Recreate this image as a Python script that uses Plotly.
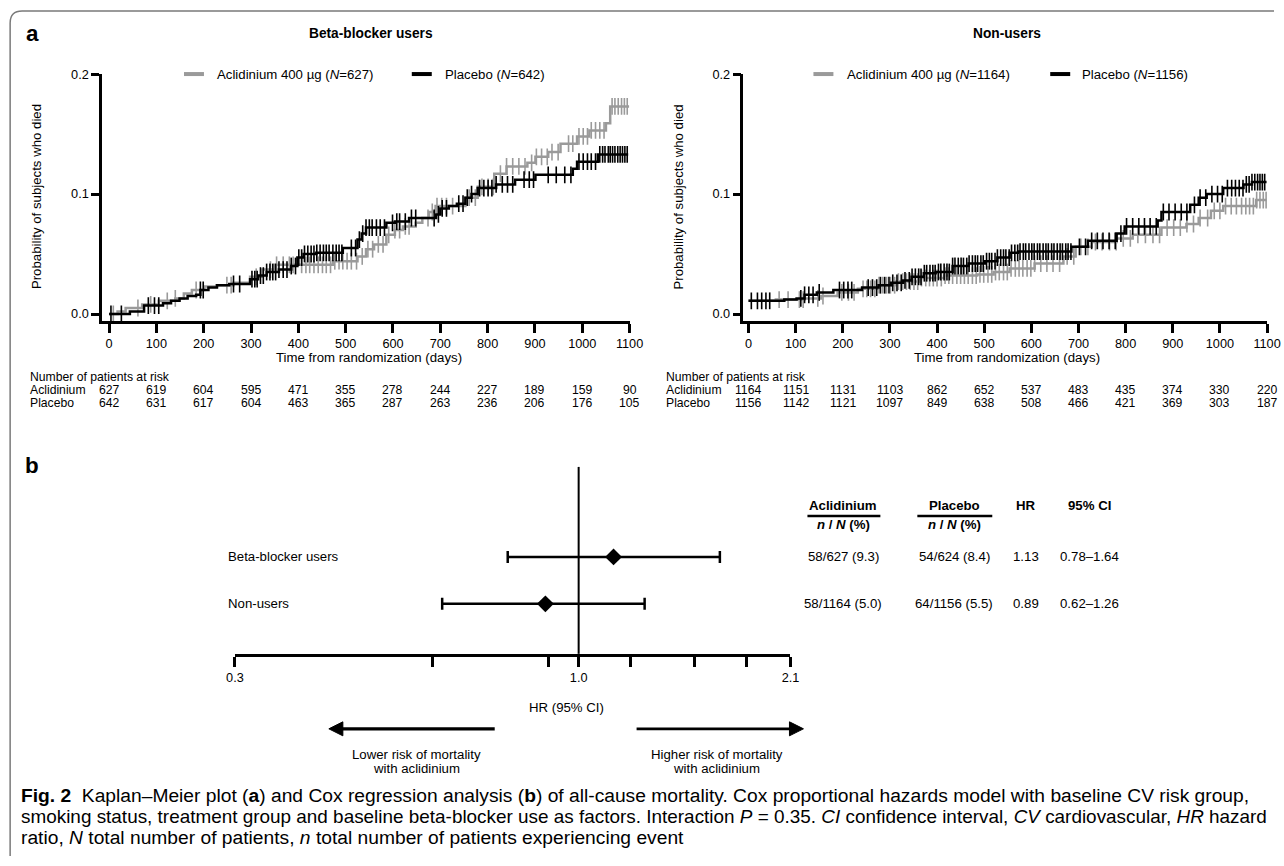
import numpy as np
import plotly.graph_objects as go

# The photographed page is shrunk (~0.983 horizontally, ~0.991 vertically) and the body keeps
# an 8px margin: target pixel T -> page pixel T*K -> figure pixel T*K - 8.
KX = 1 / 0.983
KY = 1 / 0.991
OFF = 8
FW, FH = 1288, 856
FONT = "Liberation Sans, Arial, Helvetica, sans-serif"
GRAY = "#9a9a9a"


def fs(v):
    return v * KX


def px(x):
    return (x * KX - OFF) / FW


def py(y):
    return 1 - (y * KY - OFF) / FH


# ---------------- Kaplan-Meier data ----------------
# Beta-blocker users
bb_acl_t = [0, 18, 35, 70, 105, 140, 158, 175, 201, 228, 263, 298, 324, 350, 473, 525, 543, 560, 586,
            604, 621, 648, 662, 676, 690, 753, 779, 814, 840, 884, 901, 928, 954, 989, 1015, 1050, 1059, 1099]
bb_acl_p = [0, 0.002, 0.005, 0.008, 0.011, 0.013, 0.017, 0.020, 0.023, 0.024, 0.026, 0.031, 0.037, 0.041,
            0.044, 0.048, 0.054, 0.058, 0.066, 0.070, 0.073, 0.076, 0.080, 0.085, 0.090, 0.097, 0.106, 0.117,
            0.123, 0.126, 0.131, 0.135, 0.142, 0.148, 0.153, 0.159, 0.173, 0.173]
bb_acl_cens = [9, 61, 88, 123, 140, 184, 249, 258, 311, 341, 354, 368, 381, 389, 407, 416, 424, 433, 442,
               451, 459, 468, 477, 486, 494, 503, 512, 523, 535, 547, 557, 569, 579, 591, 604, 614, 626, 634,
               674, 683, 693, 703, 713, 726, 761, 774, 788, 801, 812, 827, 840, 853, 866, 879, 893, 903, 914,
               926, 936, 949, 971, 980, 993, 1002, 1011, 1019, 1028, 1037, 1046, 1063, 1069, 1076, 1083,
               1089, 1095]

bb_pla_t = [0, 44, 74, 114, 131, 149, 166, 184, 193, 210, 228, 254, 298, 315, 333, 359, 385, 398, 411,
            438, 494, 525, 534, 543, 586, 604, 634, 691, 700, 718, 735, 753, 766, 779, 818, 858, 901, 980,
            989, 1033, 1097]
bb_pla_p = [0, 0.002, 0.007, 0.009, 0.011, 0.013, 0.015, 0.016, 0.020, 0.022, 0.024, 0.025, 0.029, 0.032,
            0.035, 0.037, 0.040, 0.047, 0.050, 0.051, 0.055, 0.062, 0.067, 0.072, 0.076, 0.077, 0.080, 0.083,
            0.088, 0.090, 0.092, 0.097, 0.100, 0.105, 0.108, 0.112, 0.116, 0.121, 0.127, 0.133, 0.133]
bb_pla_cens = [4, 26, 83, 96, 105, 193, 199, 263, 276, 302, 308, 313, 320, 326, 333, 340, 346, 352, 359,
               368, 376, 385, 394, 401, 407, 413, 420, 427, 433, 439, 446, 453, 459, 465, 473, 480, 486, 492,
               512, 521, 529, 536, 543, 550, 556, 565, 573, 582, 599, 608, 614, 626, 639, 648, 687, 696, 704,
               713, 739, 748, 757, 766, 783, 792, 801, 809, 818, 831, 842, 853, 877, 888, 897, 928, 945, 963,
               976, 993, 1002, 1011, 1019, 1028, 1037, 1043, 1048, 1055, 1059, 1064, 1069, 1075, 1080, 1085,
               1090, 1095]

# Non-users
nu_acl_t = [0, 58, 119, 154, 189, 232, 276, 311, 363, 415, 485, 520, 554, 607, 668, 694, 728, 781, 815,
            876, 929, 955, 981, 1007, 1077, 1099]
nu_acl_p = [0.011, 0.012, 0.013, 0.015, 0.018, 0.021, 0.024, 0.027, 0.030, 0.032, 0.033, 0.035, 0.038,
            0.042, 0.048, 0.056, 0.060, 0.063, 0.066, 0.072, 0.075, 0.080, 0.086, 0.090, 0.095, 0.095]
nu_acl_cens = [65, 84, 108, 116, 147, 158, 198, 212, 224, 243, 251, 259, 268, 277, 285, 293, 301, 310, 318,
               327, 335, 343, 351, 359, 367, 376, 384, 392, 400, 409, 417, 425, 433, 442, 450, 458, 466, 475,
               483, 491, 499, 508, 516, 524, 532, 541, 549, 557, 566, 574, 582, 591, 599, 607, 620, 633, 646,
               660, 676, 690, 705, 720, 736, 750, 766, 780, 795, 810, 826, 842, 858, 872, 888, 902, 916, 930,
               944, 958, 974, 988, 1000, 1012, 1024, 1035, 1046, 1055, 1063, 1071, 1078, 1085, 1092, 1098]

nu_pla_t = [0, 76, 102, 119, 145, 180, 241, 276, 302, 328, 346, 372, 397, 433, 467, 502, 528, 554, 572,
            685, 720, 781, 798, 868, 876, 937, 955, 972, 1007, 1050, 1068, 1099]
nu_pla_p = [0.011, 0.012, 0.013, 0.016, 0.018, 0.020, 0.022, 0.024, 0.026, 0.028, 0.031, 0.034, 0.035,
            0.040, 0.042, 0.044, 0.047, 0.051, 0.052, 0.056, 0.061, 0.067, 0.073, 0.078, 0.085, 0.091,
            0.097, 0.100, 0.105, 0.108, 0.110, 0.110]
nu_pla_cens = [6, 19, 28, 37, 45, 111, 119, 128, 137, 150, 193, 202, 211, 219, 254, 263, 272, 280, 289,
               298, 306, 315, 324, 332, 341, 347, 354, 361, 366, 373, 378, 385, 391, 396, 403, 408, 415, 421,
               426, 433, 438, 445, 451, 456, 463, 468, 475, 481, 486, 493, 498, 505, 511, 516, 523, 528, 535,
               541, 546, 553, 558, 565, 571, 576, 583, 588, 595, 601, 606, 613, 618, 625, 631, 636, 643, 648,
               655, 661, 666, 673, 678, 684, 702, 715, 728, 740, 752, 765, 778, 790, 802, 815, 828, 840, 852,
               865, 880, 892, 905, 918, 930, 946, 958, 970, 983, 995, 1005, 1016, 1025, 1033, 1041, 1049,
               1056, 1062, 1068, 1074, 1080, 1085, 1090, 1095]

# Numbers at risk
risk_days = [0, 100, 200, 300, 400, 500, 600, 700, 800, 900, 1000, 1100]
bb_risk_acl = [627, 619, 604, 595, 471, 355, 278, 244, 227, 189, 159, 90]
bb_risk_pla = [642, 631, 617, 604, 463, 365, 287, 263, 236, 206, 176, 105]
nu_risk_acl = [1164, 1151, 1131, 1103, 862, 652, 537, 483, 435, 374, 330, 220]
nu_risk_pla = [1156, 1142, 1121, 1097, 849, 638, 508, 466, 421, 369, 303, 187]

# ---------------- Forest plot data ----------------
forest_groups = ["Beta-blocker users", "Non-users"]
forest_hr = [1.13, 0.89]
forest_lo = [0.78, 0.62]
forest_hi = [1.64, 1.26]
acl_n = [58, 58]
acl_N = [627, 1164]
acl_pct = [9.3, 5.0]
pla_n = [54, 64]
pla_N = [624, 1156]
pla_pct = [8.4, 5.5]
forest_ticks = [0.3, 0.6, 0.9, 1.0, 1.2, 1.5, 1.8, 2.1]
forest_ticklabels = ["0.3", "", "", "1.0", "", "", "", "2.1"]


def step_at(t, p, tc):
    t = np.asarray(t)
    p = np.asarray(p)
    idx = np.searchsorted(t, np.asarray(tc), side="right") - 1
    return p[np.clip(idx, 0, len(p) - 1)]


fig = go.Figure()

curves = [
    ("x", "y", bb_acl_t, bb_acl_p, bb_acl_cens, GRAY),
    ("x", "y", bb_pla_t, bb_pla_p, bb_pla_cens, "black"),
    ("x2", "y2", nu_acl_t, nu_acl_p, nu_acl_cens, GRAY),
    ("x2", "y2", nu_pla_t, nu_pla_p, nu_pla_cens, "black"),
]
for xa, ya, t, p, cens, col in curves:
    fig.add_trace(go.Scatter(x=t, y=p, mode="lines", line=dict(color=col, width=2.5, shape="hv"),
                             xaxis=xa, yaxis=ya, showlegend=False, hoverinfo="skip"))
    fig.add_trace(go.Scatter(x=cens, y=step_at(t, p, cens), mode="markers",
                             marker=dict(symbol="line-ns", size=12, line=dict(color=col, width=1.6)),
                             xaxis=xa, yaxis=ya, showlegend=False, hoverinfo="skip"))

# forest plot
n_rows = len(forest_groups)
row_y = [n_rows - i for i in range(n_rows)]
fig.add_trace(go.Scatter(
    x=forest_hr, y=row_y, mode="markers",
    marker=dict(symbol="diamond", size=13, color="black"),
    error_x=dict(type="data", symmetric=False,
                 array=[h - m for h, m in zip(forest_hi, forest_hr)],
                 arrayminus=[m - l for m, l in zip(forest_hr, forest_lo)],
                 color="black", thickness=2.5, width=6),
    xaxis="x3", yaxis="y3", showlegend=False, hoverinfo="skip"))

ax_common = dict(showline=True, linecolor="black", ticks="outside", tickcolor="black",
                 showgrid=False, zeroline=False, fixedrange=True,
                 tickfont=dict(family=FONT, size=fs(12.5), color="black"))

fig.update_layout(
    width=FW, height=FH, margin=dict(l=0, r=0, t=0, b=0),
    paper_bgcolor="white", plot_bgcolor="rgba(0,0,0,0)",
    font=dict(family=FONT, color="black", size=fs(13)),
    xaxis=dict(domain=[px(101), px(629)], range=[-14.8, 1100], tickvals=risk_days, ticklen=9,
               tickwidth=2.5, linewidth=2.5, anchor="y", **ax_common),
    yaxis=dict(domain=[py(321), py(74)], range=[-0.0058, 0.2], tickvals=[0, 0.1, 0.2],
               ticktext=["0.0", "0.1", "0.2"], ticklen=8, tickwidth=2.5, linewidth=2.5, anchor="x",
               **ax_common),
    xaxis2=dict(domain=[px(743), px(1267)], range=[-10.6, 1100], tickvals=risk_days, ticklen=9,
                tickwidth=2.5, linewidth=2.5, anchor="y2", **ax_common),
    yaxis2=dict(domain=[py(321), py(74)], range=[-0.0058, 0.2], tickvals=[0, 0.1, 0.2],
                ticktext=["0.0", "0.1", "0.2"], ticklen=8, tickwidth=2.5, linewidth=2.5, anchor="x2",
                **ax_common),
    xaxis3=dict(type="log", domain=[px(234), px(790)], range=[np.log10(0.3), np.log10(2.1)],
                tickvals=forest_ticks, ticktext=forest_ticklabels, ticklen=10, tickwidth=2.5,
                linewidth=3, anchor="y3", **ax_common),
    yaxis3=dict(domain=[py(654), py(467)], range=[-0.064, 3.915], visible=False, anchor="x3",
                fixedrange=True),
)

shapes = []
annotations = []


def ann(text, x, y, size=13, xanchor="center", yanchor="middle", xref="paper", yref="paper",
        textangle=0, color="black"):
    annotations.append(dict(text=text, x=x, y=y, xref=xref, yref=yref, showarrow=False,
                            xanchor=xanchor, yanchor=yanchor, textangle=textangle,
                            font=dict(family=FONT, size=fs(size), color=color)))


# frame with rounded top-left corner (kept inside the figure so the page does not overflow)
r = 12
fx0, fy0 = 9, 11
path = (f"M {px(fx0)},0 L {px(fx0)},{py(fy0 + r)} "
        f"Q {px(fx0)},{py(fy0)} {px(fx0 + r)},{py(fy0)} L 1,{py(fy0)}")
shapes.append(dict(type="path", path=path, xref="paper", yref="paper",
                   line=dict(color="#7a7a7a", width=1.5)))

# panel labels and titles
ann("<b>a</b>", px(31), py(33), size=22)
ann("<b>b</b>", px(31), py(466), size=22)
ann("<b>Beta-blocker users</b>", px(370), py(33), size=13.5)
ann("<b>Non-users</b>", px(1007), py(33), size=13.5)

# legends
legends = [
    (183, 214, f"Aclidinium 400 µg (<i>N</i>={bb_risk_acl[0]})", GRAY),
    (411, 442, f"Placebo (<i>N</i>={bb_risk_pla[0]})", "black"),
    (813, 845, f"Aclidinium 400 µg (<i>N</i>={nu_risk_acl[0]})", GRAY),
    (1050, 1080, f"Placebo (<i>N</i>={nu_risk_pla[0]})", "black"),
]
for x0, xt, txt, col in legends:
    shapes.append(dict(type="line", xref="paper", yref="paper", x0=px(x0), x1=px(x0 + 20),
                       y0=py(74), y1=py(74), line=dict(color=col, width=4)))
    ann(txt, px(xt), py(74), xanchor="left")

# axis titles
for xc in (35, 677):
    ann("Probability of subjects who died", px(xc), py(197), textangle=-90)
ann("Time from randomization (days)", px(368), py(358))
ann("Time from randomization (days)", px(1007), py(358))

# risk tables
RS = 12
for xa, x_lab, racl, rpla in (("x", 27, bb_risk_acl, bb_risk_pla), ("x2", 663, nu_risk_acl, nu_risk_pla)):
    ann("Number of patients at risk", px(x_lab), py(377), size=RS, xanchor="left")
    ann("Aclidinium", px(x_lab), py(390), size=RS, xanchor="left")
    ann("Placebo", px(x_lab), py(403), size=RS, xanchor="left")
    for d, a, p in zip(risk_days, racl, rpla):
        ann(str(a), d, py(390), size=RS, xref=xa)
        ann(str(p), d, py(403), size=RS, xref=xa)

# forest: reference line
shapes.append(dict(type="line", xref="x3", yref="y3 domain", x0=1, x1=1, y0=0, y1=1,
                   line=dict(color="black", width=2)))

# forest: row labels and table
for i, g in enumerate(forest_groups):
    yv = row_y[i]
    ann(g, px(225), yv, xanchor="left", yref="y3")
    ann(f"{acl_n[i]}/{acl_N[i]} ({acl_pct[i]:.1f})", px(843), yv, yref="y3")
    ann(f"{pla_n[i]}/{pla_N[i]} ({pla_pct[i]:.1f})", px(954), yv, yref="y3")
    ann(f"{forest_hr[i]:.2f}", px(1026), yv, yref="y3")
    ann(f"{forest_lo[i]:.2f}–{forest_hi[i]:.2f}", px(1089), yv, yref="y3")

ann("<b>Aclidinium</b>", px(843), py(506))
ann("<b>Placebo</b>", px(954), py(506))
ann("<b>HR</b>", px(1026), py(506))
ann("<b>95% CI</b>", px(1089), py(506))
ann("<b><i>n</i> / <i>N</i> (%)</b>", px(843), py(525))
ann("<b><i>n</i> / <i>N</i> (%)</b>", px(954), py(525))
for x0, x1 in ((807, 880), (917, 992)):
    shapes.append(dict(type="line", xref="paper", yref="paper", x0=px(x0), x1=px(x1),
                       y0=py(516), y1=py(516), line=dict(color="black", width=2.5)))

ann("HR (95% CI)", px(566), py(708))

# arrows
ay = 729
shapes.append(dict(type="line", xref="paper", yref="paper", x0=px(340), x1=px(494),
                   y0=py(ay), y1=py(ay), line=dict(color="black", width=3.2)))
shapes.append(dict(type="path", xref="paper", yref="paper",
                   path=f"M {px(328)},{py(ay)} L {px(342)},{py(ay - 7)} L {px(342)},{py(ay + 7)} Z",
                   fillcolor="black", line=dict(color="black", width=1)))
shapes.append(dict(type="line", xref="paper", yref="paper", x0=px(636), x1=px(791),
                   y0=py(ay), y1=py(ay), line=dict(color="black", width=2.8)))
shapes.append(dict(type="path", xref="paper", yref="paper",
                   path=f"M {px(803)},{py(ay)} L {px(789)},{py(ay - 7)} L {px(789)},{py(ay + 7)} Z",
                   fillcolor="black", line=dict(color="black", width=1)))
ann("Lower risk of mortality", px(416), py(755))
ann("with aclidinium", px(416), py(769))
ann("Higher risk of mortality", px(716), py(755))
ann("with aclidinium", px(716), py(769))

# caption
cap = [
    "<b>Fig. 2</b>  Kaplan–Meier plot (<b>a</b>) and Cox regression analysis (<b>b</b>) of all-cause mortality. "
    "Cox proportional hazards model with baseline CV risk group,",
    "smoking status, treatment group and baseline beta-blocker use as factors. Interaction <i>P</i> = 0.35. "
    "<i>CI</i> confidence interval, <i>CV</i> cardiovascular, <i>HR</i> hazard",
    "ratio, <i>N</i> total number of patients, <i>n</i> total number of patients experiencing event",
]
for line, yy, sz in zip(cap, (796, 817, 838), (18.9, 18.6, 18.9)):
    ann(line, px(18), py(yy), size=sz, xanchor="left")

fig.update_layout(shapes=shapes, annotations=annotations)
fig.write_html("out.html", config={"displayModeBar": False})
